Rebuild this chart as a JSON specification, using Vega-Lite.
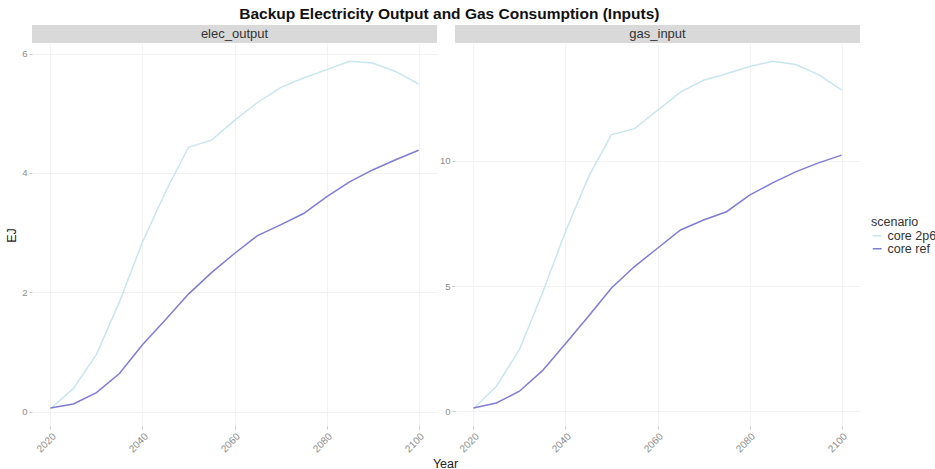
{
  "$schema": "https://vega.github.io/schema/vega-lite/v6.json",
  "background": "white",
  "padding": {"left": 5, "top": 6, "right": 0, "bottom": 0},
  "title": {"text": "Backup Electricity Output and Gas Consumption (Inputs)", "fontSize": 15.5, "fontWeight": "bold", "font": "Liberation Sans", "color": "#111111", "anchor": "middle", "dx": -22, "offset": 3},
  "datasets": {
    "strips": [{"panel": "elec_output"}, {"panel": "gas_input"}],
    "series": [
      {"panel": "elec_output", "scenario": "core 2p6", "Year": 2020, "value": 0.05},
      {"panel": "elec_output", "scenario": "core 2p6", "Year": 2025, "value": 0.39},
      {"panel": "elec_output", "scenario": "core 2p6", "Year": 2030, "value": 0.96},
      {"panel": "elec_output", "scenario": "core 2p6", "Year": 2035, "value": 1.84},
      {"panel": "elec_output", "scenario": "core 2p6", "Year": 2040, "value": 2.84},
      {"panel": "elec_output", "scenario": "core 2p6", "Year": 2045, "value": 3.68},
      {"panel": "elec_output", "scenario": "core 2p6", "Year": 2050, "value": 4.43},
      {"panel": "elec_output", "scenario": "core 2p6", "Year": 2055, "value": 4.55},
      {"panel": "elec_output", "scenario": "core 2p6", "Year": 2060, "value": 4.88},
      {"panel": "elec_output", "scenario": "core 2p6", "Year": 2065, "value": 5.18},
      {"panel": "elec_output", "scenario": "core 2p6", "Year": 2070, "value": 5.43},
      {"panel": "elec_output", "scenario": "core 2p6", "Year": 2075, "value": 5.59},
      {"panel": "elec_output", "scenario": "core 2p6", "Year": 2080, "value": 5.73},
      {"panel": "elec_output", "scenario": "core 2p6", "Year": 2085, "value": 5.87},
      {"panel": "elec_output", "scenario": "core 2p6", "Year": 2090, "value": 5.84},
      {"panel": "elec_output", "scenario": "core 2p6", "Year": 2095, "value": 5.70},
      {"panel": "elec_output", "scenario": "core 2p6", "Year": 2100, "value": 5.49},
      {"panel": "elec_output", "scenario": "core ref", "Year": 2020, "value": 0.06},
      {"panel": "elec_output", "scenario": "core ref", "Year": 2025, "value": 0.13},
      {"panel": "elec_output", "scenario": "core ref", "Year": 2030, "value": 0.32},
      {"panel": "elec_output", "scenario": "core ref", "Year": 2035, "value": 0.64},
      {"panel": "elec_output", "scenario": "core ref", "Year": 2040, "value": 1.12},
      {"panel": "elec_output", "scenario": "core ref", "Year": 2045, "value": 1.54},
      {"panel": "elec_output", "scenario": "core ref", "Year": 2050, "value": 1.97},
      {"panel": "elec_output", "scenario": "core ref", "Year": 2055, "value": 2.33},
      {"panel": "elec_output", "scenario": "core ref", "Year": 2060, "value": 2.65},
      {"panel": "elec_output", "scenario": "core ref", "Year": 2065, "value": 2.95},
      {"panel": "elec_output", "scenario": "core ref", "Year": 2070, "value": 3.13},
      {"panel": "elec_output", "scenario": "core ref", "Year": 2075, "value": 3.32},
      {"panel": "elec_output", "scenario": "core ref", "Year": 2080, "value": 3.60},
      {"panel": "elec_output", "scenario": "core ref", "Year": 2085, "value": 3.85},
      {"panel": "elec_output", "scenario": "core ref", "Year": 2090, "value": 4.05},
      {"panel": "elec_output", "scenario": "core ref", "Year": 2095, "value": 4.22},
      {"panel": "elec_output", "scenario": "core ref", "Year": 2100, "value": 4.38},
      {"panel": "gas_input", "scenario": "core 2p6", "Year": 2020, "value": 0.10},
      {"panel": "gas_input", "scenario": "core 2p6", "Year": 2025, "value": 1.00},
      {"panel": "gas_input", "scenario": "core 2p6", "Year": 2030, "value": 2.46},
      {"panel": "gas_input", "scenario": "core 2p6", "Year": 2035, "value": 4.72},
      {"panel": "gas_input", "scenario": "core 2p6", "Year": 2040, "value": 7.17},
      {"panel": "gas_input", "scenario": "core 2p6", "Year": 2045, "value": 9.36},
      {"panel": "gas_input", "scenario": "core 2p6", "Year": 2050, "value": 11.05},
      {"panel": "gas_input", "scenario": "core 2p6", "Year": 2055, "value": 11.29},
      {"panel": "gas_input", "scenario": "core 2p6", "Year": 2060, "value": 12.02},
      {"panel": "gas_input", "scenario": "core 2p6", "Year": 2065, "value": 12.75},
      {"panel": "gas_input", "scenario": "core 2p6", "Year": 2070, "value": 13.22},
      {"panel": "gas_input", "scenario": "core 2p6", "Year": 2075, "value": 13.48},
      {"panel": "gas_input", "scenario": "core 2p6", "Year": 2080, "value": 13.77},
      {"panel": "gas_input", "scenario": "core 2p6", "Year": 2085, "value": 13.98},
      {"panel": "gas_input", "scenario": "core 2p6", "Year": 2090, "value": 13.85},
      {"panel": "gas_input", "scenario": "core 2p6", "Year": 2095, "value": 13.45},
      {"panel": "gas_input", "scenario": "core 2p6", "Year": 2100, "value": 12.84},
      {"panel": "gas_input", "scenario": "core ref", "Year": 2020, "value": 0.13},
      {"panel": "gas_input", "scenario": "core ref", "Year": 2025, "value": 0.33},
      {"panel": "gas_input", "scenario": "core ref", "Year": 2030, "value": 0.80},
      {"panel": "gas_input", "scenario": "core ref", "Year": 2035, "value": 1.62},
      {"panel": "gas_input", "scenario": "core ref", "Year": 2040, "value": 2.70},
      {"panel": "gas_input", "scenario": "core ref", "Year": 2045, "value": 3.79},
      {"panel": "gas_input", "scenario": "core ref", "Year": 2050, "value": 4.92},
      {"panel": "gas_input", "scenario": "core ref", "Year": 2055, "value": 5.78},
      {"panel": "gas_input", "scenario": "core ref", "Year": 2060, "value": 6.51},
      {"panel": "gas_input", "scenario": "core ref", "Year": 2065, "value": 7.24},
      {"panel": "gas_input", "scenario": "core ref", "Year": 2070, "value": 7.64},
      {"panel": "gas_input", "scenario": "core ref", "Year": 2075, "value": 7.97},
      {"panel": "gas_input", "scenario": "core ref", "Year": 2080, "value": 8.63},
      {"panel": "gas_input", "scenario": "core ref", "Year": 2085, "value": 9.12},
      {"panel": "gas_input", "scenario": "core ref", "Year": 2090, "value": 9.56},
      {"panel": "gas_input", "scenario": "core ref", "Year": 2095, "value": 9.92},
      {"panel": "gas_input", "scenario": "core ref", "Year": 2100, "value": 10.23}
    ]
  },
  "spacing": 1,
  "vconcat": [
    {
      "data": {"name": "strips"},
      "facet": {"column": {"field": "panel", "header": null}},
      "spacing": 18,
      "spec": {
        "width": 405,
        "height": 18,
        "view": {"fill": "#d9d9d9", "stroke": null},
        "mark": {"type": "text", "fontSize": 13, "font": "Liberation Sans", "color": "#333333"},
        "encoding": {"text": {"field": "panel"}}
      }
    },
    {
      "data": {"name": "series"},
      "bounds": "flush",
      "spacing": 18,
      "hconcat": [
        {
          "transform": [{"filter": "datum.panel === 'elec_output'"}],
          "width": 405,
          "height": 382,
          "mark": {"type": "line", "strokeWidth": 1.5},
          "encoding": {
            "x": {"field": "Year", "type": "quantitative", "scale": {"domain": [2016, 2104], "nice": false, "zero": false},
                  "axis": {"values": [2020, 2040, 2060, 2080, 2100], "format": "d", "labelAngle": -45, "title": "Year", "titleX": 413, "titleY": 31, "titleAlign": "center"}},
            "y": {"field": "value", "type": "quantitative", "scale": {"domain": [-0.24, 6.16], "nice": false, "zero": false},
                  "axis": {"values": [0, 2, 4, 6], "title": "EJ"}},
            "color": {"field": "scenario", "type": "nominal", "legend": {"orient": "none", "legendX": 839, "legendY": 191}}
          }
        },
        {
          "transform": [{"filter": "datum.panel === 'gas_input'"}],
          "width": 405,
          "height": 382,
          "mark": {"type": "line", "strokeWidth": 1.5},
          "encoding": {
            "x": {"field": "Year", "type": "quantitative", "scale": {"domain": [2016, 2104], "nice": false, "zero": false},
                  "axis": {"values": [2020, 2040, 2060, 2080, 2100], "format": "d", "labelAngle": -45, "title": null}},
            "y": {"field": "value", "type": "quantitative", "scale": {"domain": [-0.59, 14.67], "nice": false, "zero": false},
                  "axis": {"values": [0, 5, 10], "title": null}},
            "color": {"field": "scenario", "type": "nominal", "legend": {"orient": "none", "legendX": 839, "legendY": 191}}
          }
        }
      ],
      "resolve": {"scale": {"y": "independent", "x": "independent"}}
    }
  ],
  "config": {
    "font": "Liberation Sans",
    "view": {"stroke": null},
    "axis": {
      "domain": false,
      "grid": true,
      "gridColor": "#f2f2f2",
      "gridWidth": 1,
      "tickColor": "#c8c8c8",
      "tickSize": 3,
      "labelColor": "#8c8c8c",
      "labelFontSize": 9.5,
      "labelPadding": 2,
      "titleColor": "#222222",
      "titleFontSize": 12.5,
      "titleFontWeight": "normal"
    },
    "axisX": {"labelFontSize": 10},
    "axisY": {"titlePadding": 3},
    "range": {"category": ["#c8e6f0", "#7f7cd4"]},
    "legend": {
      "titleFontSize": 12.5,
      "titleFontWeight": "normal",
      "titleColor": "#333333",
      "labelFontSize": 12.5,
      "labelColor": "#333333",
      "symbolType": "stroke",
      "symbolStrokeWidth": 1.5,
      "symbolSize": 80,
      "rowPadding": 0,
      "titlePadding": 1,
      "padding": 0
    }
  }
}
